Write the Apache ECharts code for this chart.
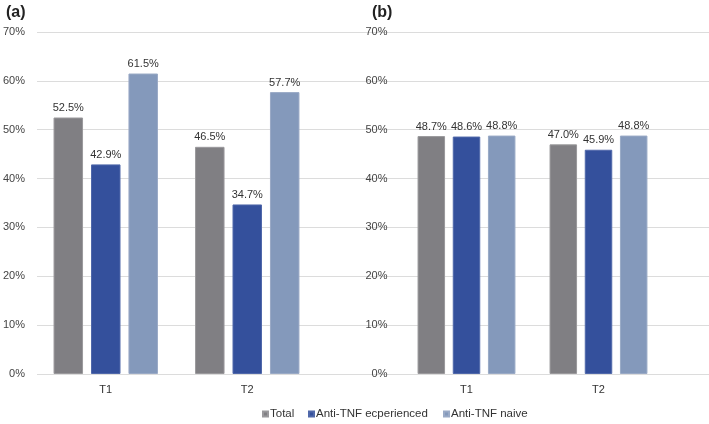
<!DOCTYPE html>
<html>
<head>
<meta charset="utf-8">
<script src="https://cdn.jsdelivr.net/npm/echarts@6/dist/echarts.min.js"></script>
<style>html,body{margin:0;padding:0;background:#fff}#c{width:709px;height:424px}</style>
</head>
<body>
<div id="c"></div>
<script>
var categories = ['T1', 'T2'];
var seriesNames = ['Total', 'Anti-TNF ecperienced', 'Anti-TNF naive'];
var panelA_total = [52.5, 46.5];
var panelA_experienced = [42.9, 34.7];
var panelA_naive = [61.5, 57.7];
var panelB_total = [48.7, 47.0];
var panelB_experienced = [48.6, 45.9];
var panelB_naive = [48.8, 48.8];
var yTicks = [0, 10, 20, 30, 40, 50, 60, 70];

var colors = ['#807f83', '#34509c', '#8499bb'];
var borders = ['#9a999c', '#5068aa', '#9aaac6'];
var font = 'Liberation Sans, Arial, sans-serif';

function mkSeries(name, data, idx, axisIdx, bw, gap) {
  return {
    type: 'bar', name: name, data: data,
    xAxisIndex: axisIdx, yAxisIndex: axisIdx,
    barWidth: bw, barGap: gap,
    itemStyle: { color: colors[idx], borderColor: borders[idx], borderWidth: 1 },
    label: { show: true, position: 'top', distance: 4, fontSize: 11, fontFamily: font, color: '#333',
      formatter: function (p) { return p.value.toFixed(1) + '%'; } },
    emphasis: { disabled: true }
  };
}

function mkLegend(name, left) {
  return {
    data: [name], left: left, top: 403, itemWidth: 5, itemHeight: 5, icon: 'rect',
    selectedMode: false,
    textStyle: { fontSize: 11.5, fontFamily: font, color: '#333', padding: [0, 0, 0, -3] }
  };
}

var yMin = yTicks[0], yMax = yTicks[yTicks.length - 1], yInt = yTicks[1] - yTicks[0];

var chart = echarts.init(document.getElementById('c'), null, { renderer: 'canvas' });
chart.setOption({
  animation: false,
  title: [
    { text: '(a)', left: 1, top: 0, textStyle: { fontSize: 16, fontWeight: 'bold', fontFamily: font, color: '#222' } },
    { text: '(b)', left: 367, top: 0, textStyle: { fontSize: 16, fontWeight: 'bold', fontFamily: font, color: '#222' } }
  ],
  legend: [
    mkLegend(seriesNames[0], 257),
    mkLegend(seriesNames[1], 303),
    mkLegend(seriesNames[2], 438)
  ],
  grid: [
    { left: 35, right: 0, top: 32, bottom: 50 },
    { left: 35, width: 283, top: 32, bottom: 50 },
    { left: 400.5, width: 264, top: 32, bottom: 50 }
  ],
  xAxis: [
    { gridIndex: 0, type: 'value', min: 0, max: 1, show: false },
    { gridIndex: 1, type: 'category', data: categories, axisLine: { show: false }, axisTick: { show: false },
      axisLabel: { fontSize: 11, fontFamily: font, color: '#333', margin: 10 } },
    { gridIndex: 2, type: 'category', data: categories, axisLine: { show: false }, axisTick: { show: false },
      axisLabel: { fontSize: 11, fontFamily: font, color: '#333', margin: 10 } }
  ],
  yAxis: [
    { gridIndex: 0, type: 'value', min: yMin, max: yMax, interval: yInt,
      axisLine: { show: false }, axisTick: { show: false },
      splitLine: { lineStyle: { color: '#dcdcdc', width: 1 } },
      axisLabel: { fontSize: 11, fontFamily: font, color: '#444', margin: 12, formatter: '{value}%' } },
    { gridIndex: 1, type: 'value', min: yMin, max: yMax, interval: yInt, show: false },
    { gridIndex: 2, type: 'value', min: yMin, max: yMax, interval: yInt,
      axisLine: { show: false }, axisTick: { show: false }, splitLine: { show: false },
      axisLabel: { fontSize: 11, fontFamily: font, color: '#444', margin: 13, formatter: '{value}%' } }
  ],
  series: [
    mkSeries(seriesNames[0], panelA_total, 0, 1, 29.5, '27%'),
    mkSeries(seriesNames[1], panelA_experienced, 1, 1, 29.5, '27%'),
    mkSeries(seriesNames[2], panelA_naive, 2, 1, 29.5, '27%'),
    mkSeries(seriesNames[0], panelB_total, 0, 2, 27.5, '28%'),
    mkSeries(seriesNames[1], panelB_experienced, 1, 2, 27.5, '28%'),
    mkSeries(seriesNames[2], panelB_naive, 2, 2, 27.5, '28%')
  ]
});
</script>
</body>
</html>
